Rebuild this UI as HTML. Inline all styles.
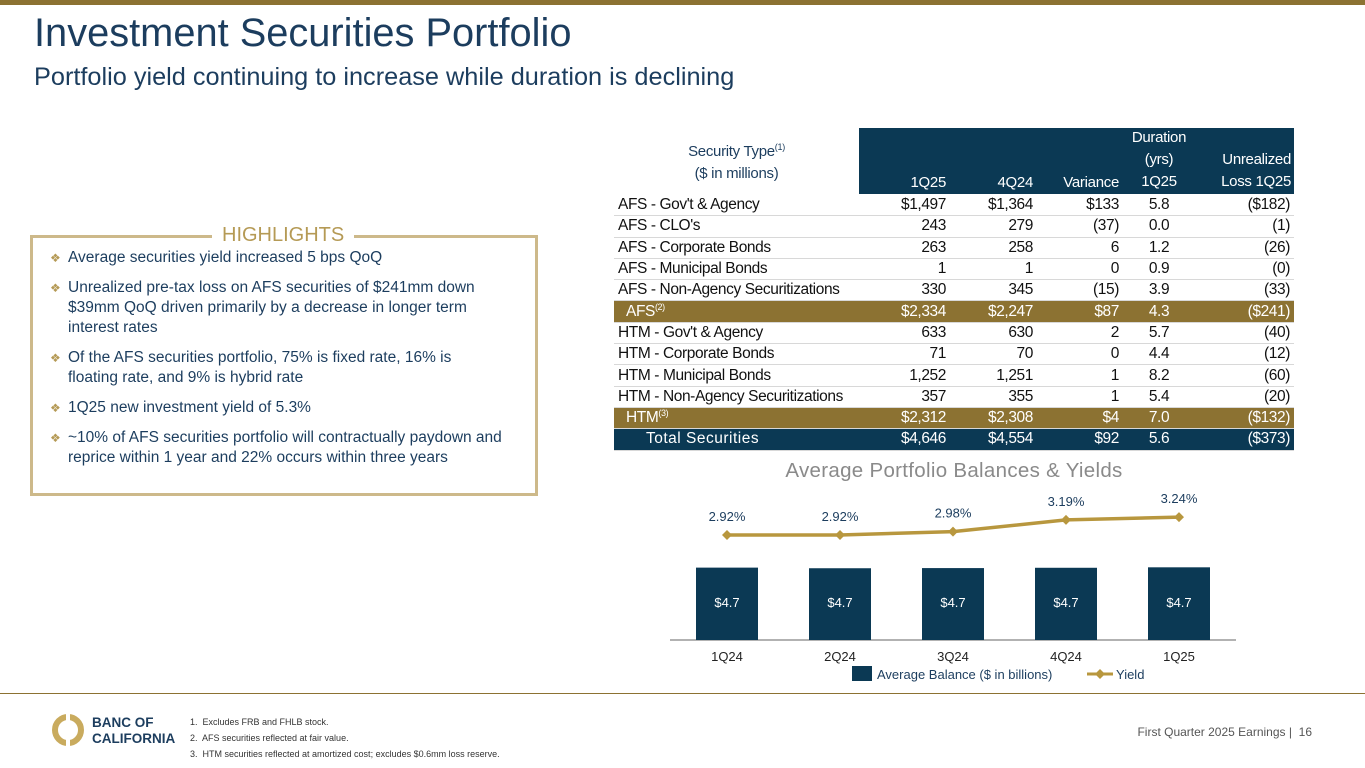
<!DOCTYPE html>
<html><head><meta charset="utf-8">
<style>
body{margin:0;width:1365px;height:768px;position:relative;background:#fff;font-family:"Liberation Sans",sans-serif;overflow:hidden}
.abs{position:absolute}
table{border-collapse:collapse;font-size:15.5px;color:#111;letter-spacing:-0.4px;table-layout:fixed}
td{height:20.3px;padding:0 4px;border-bottom:1px solid #d8d8d8;white-space:nowrap;line-height:20px}
td.r{text-align:right}td.c{text-align:center}
tr.sub td{background:#8c7232;color:#fff}
tr.tot td{background:#0b3954;color:#fff}
sup{font-size:9px;line-height:0;vertical-align:0;position:relative;top:-6px}
ul{margin:0;padding:0;list-style:none}
li{position:relative;padding-left:18px;margin-bottom:10px;font-size:15.5px;line-height:20px;color:#1c3d5e}
li:before{content:"❖";position:absolute;left:0;top:0;color:#b59a55;font-size:12px}
.hd{position:absolute;color:#fff;font-size:15px;letter-spacing:-0.3px;line-height:22px}
</style></head><body>
<div class="abs" style="left:0;top:0;width:1365px;height:5px;background:#8c7232"></div>
<div class="abs" style="left:34px;top:11px;font-size:39.8px;color:#1c3d5e">Investment Securities Portfolio</div>
<div class="abs" style="left:34px;top:63px;font-size:25.3px;color:#1c3d5e">Portfolio yield continuing to increase while duration is declining</div>

<div class="abs" style="left:30px;top:235px;width:502px;height:255px;border:3px solid #cdb98a"></div>
<div class="abs" style="left:212px;top:224px;padding:0 10px;background:#fff;font-size:20px;color:#b59a55">HIGHLIGHTS</div>
<ul class="abs" style="left:50px;top:248px;width:470px">
<li>Average securities yield increased 5 bps QoQ</li>
<li>Unrealized pre-tax loss on AFS securities of $241mm down $39mm QoQ driven primarily by a decrease in longer term interest rates</li>
<li>Of the AFS securities portfolio, 75% is fixed rate, 16% is<br>floating rate, and 9% is hybrid rate</li>
<li>1Q25 new investment yield of 5.3%</li>
<li>~10% of AFS securities portfolio will contractually paydown and reprice within 1 year and 22% occurs within three years</li>
</ul>

<div class="abs" style="left:859px;top:128px;width:435px;height:66px;background:#0b3954"></div>
<div class="abs" style="left:614px;top:141px;width:245px;text-align:center;font-size:15px;line-height:22px;color:#1c3d5e;letter-spacing:-0.3px">Security Type<sup>(1)</sup><br>($ in millions)</div>
<div class="abs" style="left:0;top:0">
<div class="hd" style="left:850px;width:96px;text-align:right;top:172px">1Q25</div>
<div class="hd" style="left:940px;width:93px;text-align:right;top:172px">4Q24</div>
<div class="hd" style="left:1020px;width:99px;text-align:right;top:172px">Variance</div>
<div class="hd" style="left:1120px;width:78px;text-align:center;top:127px">Duration<br>(yrs)<br>1Q25</div>
<div class="hd" style="left:1190px;width:101px;text-align:right;top:149px">Unrealized<br>Loss 1Q25</div>
</div>
<table class="abs" style="left:614px;top:195px;width:680px">
<colgroup><col style="width:245px"><col style="width:91px"><col style="width:87px"><col style="width:86px"><col style="width:72px"><col style="width:99px"></colgroup>
<tr><td>AFS - Gov't &amp; Agency</td><td class="r">$1,497</td><td class="r">$1,364</td><td class="r">$133</td><td class="c">5.8</td><td class="r">($182)</td></tr>
<tr><td>AFS - CLO's</td><td class="r">243</td><td class="r">279</td><td class="r">(37)</td><td class="c">0.0</td><td class="r">(1)</td></tr>
<tr><td>AFS - Corporate Bonds</td><td class="r">263</td><td class="r">258</td><td class="r">6</td><td class="c">1.2</td><td class="r">(26)</td></tr>
<tr><td>AFS - Municipal Bonds</td><td class="r">1</td><td class="r">1</td><td class="r">0</td><td class="c">0.9</td><td class="r">(0)</td></tr>
<tr><td>AFS - Non-Agency Securitizations</td><td class="r">330</td><td class="r">345</td><td class="r">(15)</td><td class="c">3.9</td><td class="r">(33)</td></tr>
<tr class="sub"><td style="padding-left:12px">AFS<sup>(2)</sup></td><td class="r">$2,334</td><td class="r">$2,247</td><td class="r">$87</td><td class="c">4.3</td><td class="r">($241)</td></tr>
<tr><td>HTM - Gov't &amp; Agency</td><td class="r">633</td><td class="r">630</td><td class="r">2</td><td class="c">5.7</td><td class="r">(40)</td></tr>
<tr><td>HTM - Corporate Bonds</td><td class="r">71</td><td class="r">70</td><td class="r">0</td><td class="c">4.4</td><td class="r">(12)</td></tr>
<tr><td>HTM - Municipal Bonds</td><td class="r">1,252</td><td class="r">1,251</td><td class="r">1</td><td class="c">8.2</td><td class="r">(60)</td></tr>
<tr><td>HTM - Non-Agency Securitizations</td><td class="r">357</td><td class="r">355</td><td class="r">1</td><td class="c">5.4</td><td class="r">(20)</td></tr>
<tr class="sub"><td style="padding-left:12px">HTM<sup>(3)</sup></td><td class="r">$2,312</td><td class="r">$2,308</td><td class="r">$4</td><td class="c">7.0</td><td class="r">($132)</td></tr>
<tr class="tot"><td style="padding-left:32px;letter-spacing:0.5px">Total Securities</td><td class="r">$4,646</td><td class="r">$4,554</td><td class="r">$92</td><td class="c">5.6</td><td class="r">($373)</td></tr>
</table>

<div class="abs" style="left:614px;top:459px;width:680px;text-align:center;font-size:20.5px;color:#8a8a8a;letter-spacing:0.3px">Average Portfolio Balances &amp; Yields</div>
<svg class="abs" id="chart" style="left:0;top:0" width="1365" height="768"></svg>

<div class="abs" style="left:0;top:693px;width:1365px;height:1px;background:#8c7232"></div>
<svg class="abs" style="left:52px;top:713px" width="32" height="34"><circle cx="16" cy="17" r="13" fill="none" stroke="#c9ab5e" stroke-width="6"/><rect x="14" y="0" width="4" height="34" fill="#fff"/></svg>
<div class="abs" style="left:92px;top:715px;font-size:13.5px;font-weight:bold;color:#1c3d5e;line-height:16px">BANC OF<br>CALIFORNIA</div>
<div class="abs" style="left:190px;top:714px;font-size:9px;color:#333;line-height:16px">1.&nbsp; Excludes FRB and FHLB stock.<br>2.&nbsp; AFS securities reflected at fair value.<br>3.&nbsp; HTM securities reflected at amortized cost; excludes $0.6mm loss reserve.</div>
<div class="abs" style="left:1080px;top:725px;width:232px;text-align:right;font-size:12px;color:#555">First Quarter 2025 Earnings |&nbsp; 16</div>

<script>
const categories=["1Q24","2Q24","3Q24","4Q24","1Q25"];
const balances=[4.70,4.66,4.67,4.69,4.72];
const balanceLabels=["$4.7","$4.7","$4.7","$4.7","$4.7"];
const yields=[2.92,2.92,2.98,3.19,3.24];
const yieldLabels=["2.92%","2.92%","2.98%","3.19%","3.24%"];
const svg=document.getElementById('chart');
const NS="http://www.w3.org/2000/svg";
const x=i=>727+i*113;
const yB=v=>640-v*15.4;
const yY=v=>535-(v-2.92)*56;
function mk(t,a){const e=document.createElementNS(NS,t);for(const k in a)e.setAttribute(k,a[k]);svg.appendChild(e);return e;}
const axis=mk('line',{x1:670,x2:1236,y1:640,y2:640,stroke:'#999','stroke-width':1.5});


categories.forEach((c,i)=>{
 const b=mk('rect',{x:x(i)-31,y:yB(balances[i]),width:62,height:640-yB(balances[i]),fill:'#0b3954'});
 
 
 const bl=mk('text',{x:x(i),y:607,'text-anchor':'middle','font-size':13,fill:'#fff','font-family':'Liberation Sans'});bl.textContent=balanceLabels[i];
 
 
 const t=mk('text',{x:x(i),y:661,'text-anchor':'middle','font-size':13,fill:'#222','font-family':'Liberation Sans'});t.textContent=c;
 
 
});
const pl=mk('polyline',{points:yields.map((v,i)=>x(i)+','+yY(v)).join(' '),fill:'none',stroke:'#b8973e','stroke-width':3.5});


yields.forEach((v,i)=>{
 const d=mk('path',{d:`M${x(i)-5},${yY(v)} L${x(i)},${yY(v)-5} L${x(i)+5},${yY(v)} L${x(i)},${yY(v)+5}Z`,fill:'#b8973e'});
 
 
 const t=mk('text',{x:x(i),y:yY(v)-14,'text-anchor':'middle','font-size':13,fill:'#1c3d5e','font-family':'Liberation Sans'});t.textContent=yieldLabels[i];
 
 
});
const lg=mk('rect',{x:852,y:666,width:20,height:15,fill:'#0b3954'});


const lt=mk('text',{x:877,y:679,'font-size':13,fill:'#1c3d5e','font-family':'Liberation Sans'});lt.textContent='Average Balance ($ in billions)';


const ll=mk('line',{x1:1087,x2:1113,y1:674,y2:674,stroke:'#b8973e','stroke-width':3});


const ld=mk('path',{d:'M1095,674 L1100,669 L1105,674 L1100,679Z',fill:'#b8973e'});


const lt2=mk('text',{x:1116,y:679,'font-size':13,fill:'#1c3d5e','font-family':'Liberation Sans'});lt2.textContent='Yield';


</script>
</body></html>
